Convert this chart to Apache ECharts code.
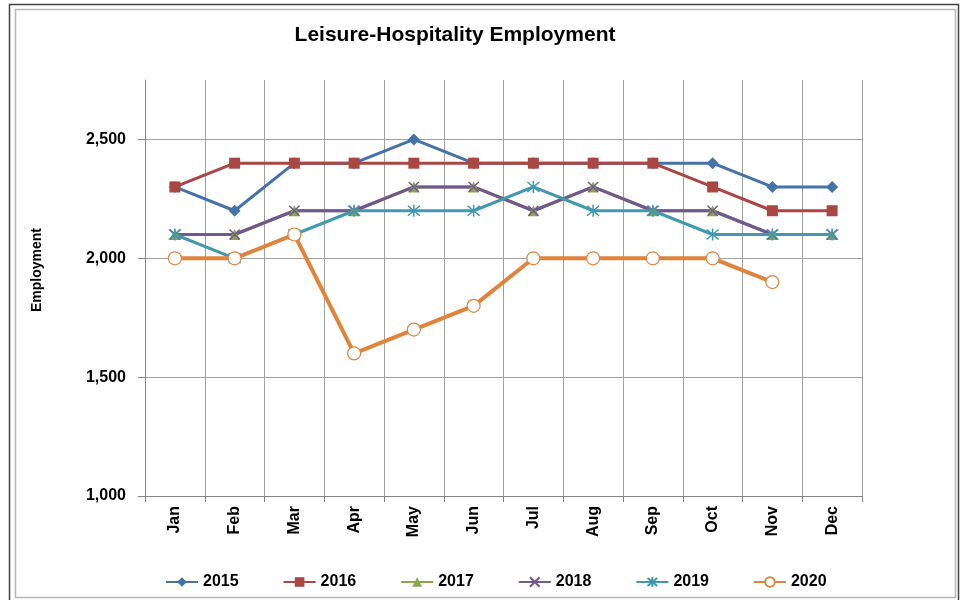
<!DOCTYPE html>
<html>
<head>
<meta charset="utf-8">
<script src="https://cdn.jsdelivr.net/npm/echarts@6/dist/echarts.min.js"></script>
<style>
  html, body { margin: 0; padding: 0; background: #fff; }
  #chart { width: 965px; height: 600px; }
</style>
</head>
<body>
<div id="chart"></div>
<script>
// months on the x axis
var months = ['Jan', 'Feb', 'Mar', 'Apr', 'May', 'Jun', 'Jul', 'Aug', 'Sep', 'Oct', 'Nov', 'Dec']

// employment per year (thousands)
var y2015 = [2300, 2200, 2400, 2400, 2500, 2400, 2400, 2400, 2400, 2400, 2300, 2300]
var y2016 = [2300, 2400, 2400, 2400, 2400, 2400, 2400, 2400, 2400, 2300, 2200, 2200]
var y2017 = [2100, 2100, 2200, 2200, 2300, 2300, 2200, 2300, 2200, 2200, 2100, 2100]
var y2018 = [2100, 2100, 2200, 2200, 2300, 2300, 2200, 2300, 2200, 2200, 2100, 2100]
var y2019 = [2100, 2000, 2100, 2200, 2200, 2200, 2300, 2200, 2200, 2100, 2100, 2100]
var y2020 = [2000, 2000, 2100, 1600, 1700, 1800, 2000, 2000, 2000, 2000, 1900]

// y tick labels shown (axis top goes a bit past the last one)
var yTicks = [1000, 1500, 2000, 2500]

var FONT = '"Liberation Sans", Arial, sans-serif'

// X and asterisk markers are open paths, so they only get stroked
var crossPath = 'path://M0,0L10,10M10,0L0,10'
var starPath = 'path://M0,0L10,10M10,0L0,10M5,-1L5,11'

function mkSeries(name, data, color, symbol, size, opts) {
  opts = opts || {}
  return {
    name: name,
    type: 'line',
    data: data,
    color: color,
    symbol: symbol,
    symbolSize: size,
    showAllSymbol: true,
    lineStyle: { color: color, width: opts.width || 3 },
    itemStyle: {
      color: opts.fill || color,
      borderColor: color,
      borderWidth: opts.border || 0
    },
    emphasis: { disabled: true },
    z: opts.z || 2
  }
}

var chart = echarts.init(document.getElementById('chart'))
chart.setOption({
  animation: false,
  backgroundColor: '#fff',
  title: {
    text: 'Leisure-Hospitality Employment',
    left: 450,
    textAlign: 'center',
    top: 20,
    textStyle: { fontFamily: FONT, fontSize: 21, fontWeight: 'bold', color: '#000' }
  },
  graphic: [
    { type: 'polyline', shape: { points: [[9.5, 600], [9.5, 4.5], [958.5, 4.5], [958.5, 600]] },
      style: { stroke: '#444', lineWidth: 1.5, fill: null } },
    { type: 'rect', shape: { x: 15.5, y: 9.5, width: 940, height: 588 },
      style: { stroke: '#b8b8b8', lineWidth: 1.5, fill: null } }
  ],
  grid: { left: 145, right: 103, top: 80, bottom: 104 },
  legend: {
    top: 569,
    left: 160,
    itemWidth: 32,
    itemHeight: 12,
    itemGap: 44,
    textStyle: { fontFamily: FONT, fontSize: 16, fontWeight: 'bold', color: '#000' },
    data: ['2015', '2016', '2017', '2018', '2019', '2020']
  },
  xAxis: {
    type: 'category',
    data: months,
    boundaryGap: true,
    axisLine: { lineStyle: { color: '#868686', width: 1 } },
    axisTick: { show: true, length: 6, lineStyle: { color: '#868686' } },
    axisLabel: {
      rotate: 90, margin: 10, fontFamily: FONT, fontSize: 16, fontWeight: 'bold', color: '#000'
    },
    splitLine: { show: true, lineStyle: { color: '#a0a0a0', width: 1 } }
  },
  yAxis: {
    type: 'value',
    min: 1000,
    max: 2750,
    interval: 500,
    name: 'Employment',
    nameLocation: 'middle',
    nameGap: 101,
    nameRotate: 90,
    nameTextStyle: {
      fontFamily: FONT, fontSize: 14, fontWeight: 'bold', color: '#000',
      padding: [0, 0, 0, 36]
    },
    axisLine: { show: true, lineStyle: { color: '#868686', width: 1 } },
    axisTick: { show: true, length: 7, customValues: yTicks, lineStyle: { color: '#868686' } },
    axisLabel: {
      margin: 19, fontFamily: FONT, fontSize: 16, fontWeight: 'bold', color: '#000',
      customValues: yTicks,
      formatter: function (v) { return v.toLocaleString('en-US') }
    },
    splitLine: {
      show: true,
      lineStyle: { color: ['#a0a0a0', '#a0a0a0', '#a0a0a0', '#a0a0a0', 'rgba(0,0,0,0)'], width: 1 }
    }
  },
  series: [
    mkSeries('2015', y2015, '#4572A7', 'diamond', 12),
    mkSeries('2016', y2016, '#AA4643', 'rect', 11),
    mkSeries('2017', y2017, '#89A54E', 'triangle', 11),
    mkSeries('2018', y2018, '#71588F', crossPath, 10, { border: 1.5, fill: 'none' }),
    mkSeries('2019', y2019, '#4198AF', starPath, 12, { border: 1.5, fill: 'none' }),
    mkSeries('2020', y2020, '#E0843C', 'circle', 13, { width: 4, fill: '#fff', border: 1.2, z: 3 })
  ]
})
</script>
</body>
</html>
